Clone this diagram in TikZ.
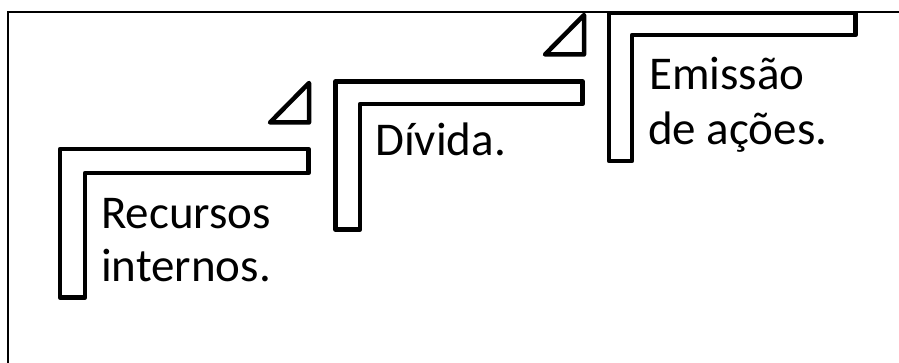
\documentclass[tikz,border=0pt]{standalone}
\usepackage{fontspec}
\setmainfont{Carlito}
\begin{document}
\begin{tikzpicture}[x=1pt,y=-1pt,
  stairbar/.style={draw=black, line width=4.5pt, line join=round, fill=white},
  framestroke/.style={draw=black, line width=1.5pt},
  txt/.style={font=\fontsize{47}{56}\selectfont, inner sep=0pt, anchor=base west}]
\useasboundingbox (0,0) rectangle (899,363);

% open frame: left and top edges only
\draw[framestroke] (8,363) -- (8,12) -- (899,12);

% first step
\draw[stairbar] (60,149) -- (308.5,149) -- (308.5,173) -- (85,173) -- (85,297.5) -- (60,297.5) -- cycle;
\draw[stairbar] (309,83) -- (270,122.5) -- (309,122.5) -- cycle;

% second step
\draw[stairbar] (335.5,81.5) -- (582.5,81.5) -- (582.5,104) -- (360,104) -- (360,229.5) -- (335.5,229.5) -- cycle;
\draw[stairbar] (584,15) -- (545,54.5) -- (584,54.5) -- cycle;

% third step
\draw[stairbar] (609,13) -- (855.5,13) -- (855.5,35) -- (632,35) -- (632,161) -- (609,161) -- cycle;

% labels
\node[txt] (rec1) at (101,229) {Recursos};
\node[txt] (rec2) at (101,281) {internos.};
\node[txt] (div)  at (375,156) {Dívida.};
\node[txt] (emi1) at (649,90)  {Emissão};
\node[txt] (emi2) at (648,145) {de ações.};
\end{tikzpicture}
\end{document}
